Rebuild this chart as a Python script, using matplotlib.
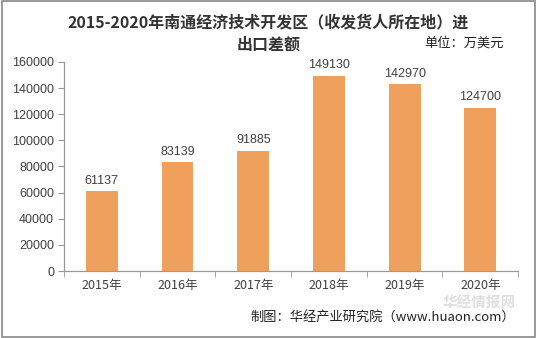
import matplotlib
matplotlib.use("Agg")
import matplotlib.pyplot as plt
from matplotlib.patches import Rectangle

plt.rcParams['font.family'] = ['Noto Sans CJK SC', 'DejaVu Sans']

years = ['2015年', '2016年', '2017年', '2018年', '2019年', '2020年']
values = [61137, 83139, 91885, 149130, 142970, 124700]
yticks = [0, 20000, 40000, 60000, 80000, 100000, 120000, 140000, 160000]

bar_color = '#F0A05D'
text_color = '#404040'
axis_color = '#999999'

fig = plt.figure(figsize=(5.37, 3.38), dpi=100)
fig.patch.set_facecolor('white')
fig.patches.append(Rectangle((0.004, 0.004), 0.992, 0.992, transform=fig.transFigure,
                             fill=False, edgecolor='#888888', linewidth=1.2))

ax = fig.add_axes([0.119, 0.198, 0.846, 0.619])
x = list(range(len(years)))
ax.bar(x, values, width=0.42, color=bar_color, zorder=2)
for xi, v in zip(x, values):
    ax.text(xi, v + 3500, str(v), ha='center', va='bottom', fontsize=9,
            color=text_color, family=['Liberation Sans', 'DejaVu Sans'])

ax.set_xlim(-0.5, len(years) - 0.5)
ax.set_ylim(0, 160000)
ax.set_yticks(yticks)
ax.set_yticklabels([str(t) for t in yticks], fontsize=9, color=text_color,
                   family=['Liberation Sans', 'DejaVu Sans'])
ax.set_xticks(x)
ax.set_xticklabels(years, fontsize=9, color=text_color)
ax.tick_params(axis='x', length=0, pad=6)
ax.set_xticks([i + 0.5 for i in range(-1, len(years))], minor=True)
ax.tick_params(axis='x', which='minor', length=4, color=axis_color)
ax.tick_params(axis='y', length=4, color=axis_color, pad=3)
for s in ['top', 'right']:
    ax.spines[s].set_visible(False)
for s in ['left', 'bottom']:
    ax.spines[s].set_color(axis_color)
    ax.spines[s].set_linewidth(0.9)

fig.text(0.5, 0.935, '2015-2020年南通经济技术开发区（收发货人所在地）进', ha='center', va='center',
         fontsize=11.5, fontweight='bold', color='#333333')
fig.text(0.5, 0.868, '出口差额', ha='center', va='center',
         fontsize=11.5, fontweight='bold', color='#333333')
fig.text(0.938, 0.872, '单位：万美元', ha='right', va='center', fontsize=9.5, color='#222222')

fig.text(0.96, 0.108, '华经情报网', ha='right', va='center', fontsize=10.5, fontweight='bold',
         color='#D8D8D8', alpha=0.8, zorder=5)
fig.text(0.96, 0.06, '制图：华经产业研究院（www.huaon.com）', ha='right', va='center',
         fontsize=9.5, color='#222222')

fig.savefig('out.png', dpi=100)
